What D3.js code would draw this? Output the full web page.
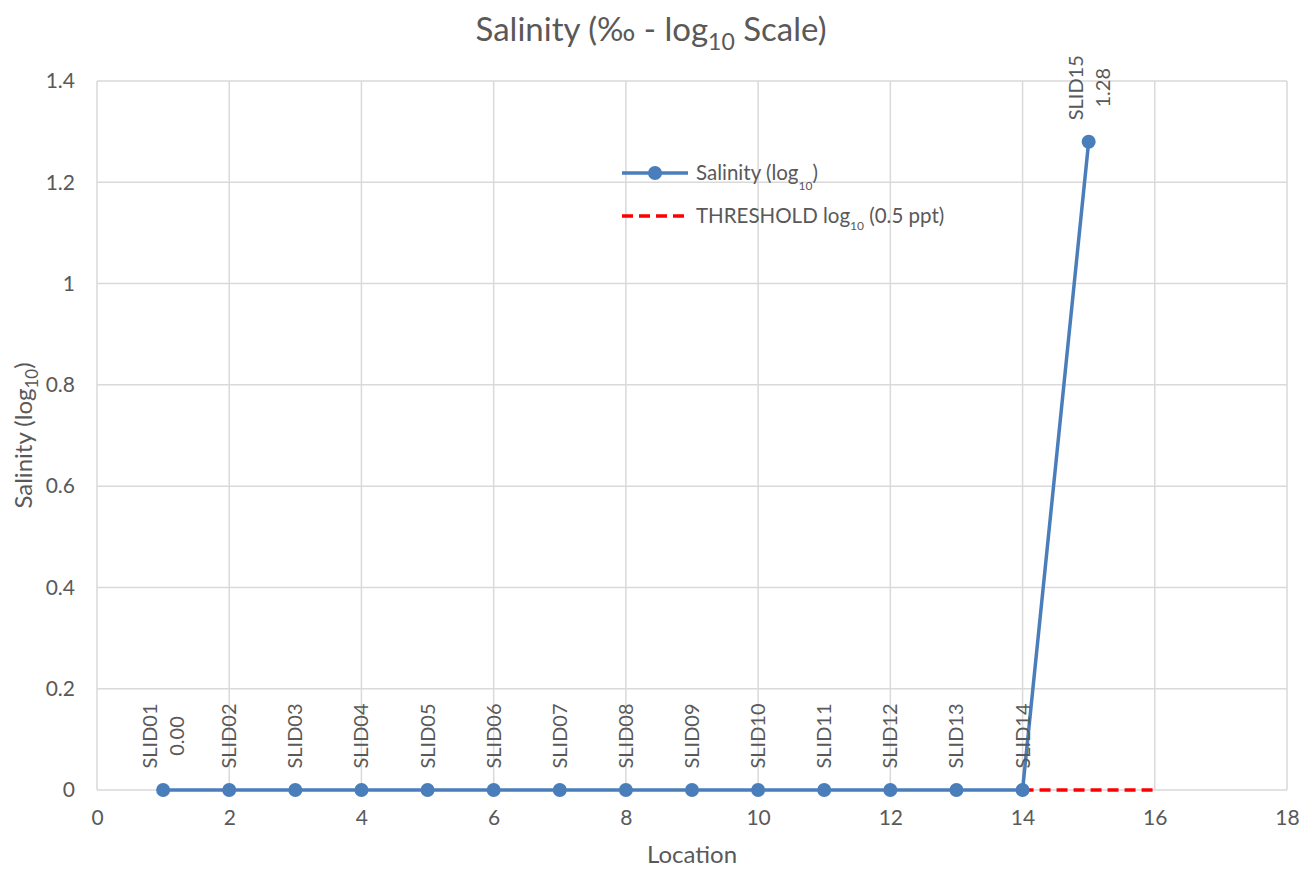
<!DOCTYPE html>
<html>
<head>
<meta charset="utf-8">
<script src="https://cdn.jsdelivr.net/npm/d3@7"></script>
<style>
body { margin: 0; background: #fff; }
text { font-family: Lato, "Open Sans", sans-serif; fill: #595959; }
</style>
</head>
<body>
<div id="chart"></div>
<script>
var width = 1302;
var height = 869;

// data
var locations = [1, 2, 3, 4, 5, 6, 7, 8, 9, 10, 11, 12, 13, 14, 15];
var siteNames = ["SLID01", "SLID02", "SLID03", "SLID04", "SLID05", "SLID06", "SLID07", "SLID08",
                 "SLID09", "SLID10", "SLID11", "SLID12", "SLID13", "SLID14", "SLID15"];
var salinityLog = [0, 0, 0, 0, 0, 0, 0, 0, 0, 0, 0, 0, 0, 0, 1.28];
var showValue = [true, false, false, false, false, false, false, false, false, false, false, false, false, false, true];
var thresholdX = [14, 16];
var thresholdY = [0, 0];
var xTicks = [0, 2, 4, 6, 8, 10, 12, 14, 16, 18];
var yTicks = [0, 0.2, 0.4, 0.6, 0.8, 1, 1.2, 1.4];

var blue = "#4a7ebb";
var grid = "#d9d9d9";

var margin = {left: 97, right: 15, top: 81, bottom: 79};

var svg = d3.select("#chart")
    .append("svg")
    .attr("width", width)
    .attr("height", height);

var x = d3.scaleLinear().domain([0, 18]).range([margin.left, width - margin.right]);
var y = d3.scaleLinear().domain([0, 1.4]).range([height - margin.bottom, margin.top]);

// gridlines
svg.append("g")
    .selectAll("line.v")
    .data(xTicks)
    .enter()
    .append("line")
    .attr("x1", function(d) { return x(d); })
    .attr("x2", function(d) { return x(d); })
    .attr("y1", y(0))
    .attr("y2", y(1.4))
    .attr("stroke", grid)
    .attr("stroke-width", 1.5);

svg.append("g")
    .selectAll("line.h")
    .data(yTicks)
    .enter()
    .append("line")
    .attr("x1", x(0))
    .attr("x2", x(18))
    .attr("y1", function(d) { return y(d); })
    .attr("y2", function(d) { return y(d); })
    .attr("stroke", grid)
    .attr("stroke-width", 1.5);

// axes (labels only)
var xAxis = svg.append("g")
    .attr("transform", "translate(0," + y(0) + ")")
    .call(d3.axisBottom(x).tickValues(xTicks).tickSize(0).tickPadding(20).tickFormat(d3.format("d")));
var yAxis = svg.append("g")
    .attr("transform", "translate(" + x(0) + ",0)")
    .call(d3.axisLeft(y).tickValues(yTicks).tickSize(0).tickPadding(22).tickFormat(function(d) {
        return d === 0 || d === 1 ? d3.format("d")(d) : d3.format(".1f")(d);
    }));
[xAxis, yAxis].forEach(function(a) {
    a.select(".domain").remove();
    a.selectAll("text").style("font-size", "21px").attr("fill", "#595959")
        .style("font-family", "Lato, 'Open Sans', sans-serif");
});

// threshold line
var pts = thresholdX.map(function(d, i) { return [d, thresholdY[i]]; });
svg.append("path")
    .datum(pts)
    .attr("d", d3.line().x(function(d) { return x(d[0]); }).y(function(d) { return y(d[1]); }))
    .attr("fill", "none")
    .attr("stroke", "#ff0000")
    .attr("stroke-width", 3.5)
    .attr("stroke-dasharray", "11,6");

// salinity series
var series = locations.map(function(d, i) { return {x: d, y: salinityLog[i], name: siteNames[i], show: showValue[i]}; });
svg.append("path")
    .datum(series)
    .attr("d", d3.line().x(function(d) { return x(d.x); }).y(function(d) { return y(d.y); }))
    .attr("fill", "none")
    .attr("stroke", blue)
    .attr("stroke-width", 3.5);

svg.append("g")
    .selectAll("circle")
    .data(series)
    .enter()
    .append("circle")
    .attr("cx", function(d) { return x(d.x); })
    .attr("cy", function(d) { return y(d.y); })
    .attr("r", 7)
    .attr("fill", blue);

// data labels (rotated)
var lab = svg.append("g")
    .selectAll("g")
    .data(series)
    .enter()
    .append("g")
    .attr("transform", function(d) {
        return "translate(" + x(d.x) + "," + (y(d.y) - 54) + ") rotate(-90)";
    });
lab.append("text")
    .attr("text-anchor", "middle")
    .attr("y", function(d) { return d.show ? -6 : 7; })
    .style("font-size", "20px")
    .text(function(d) { return d.name; });
lab.filter(function(d) { return d.show; })
    .append("text")
    .attr("text-anchor", "middle")
    .attr("y", 21)
    .style("font-size", "20px")
    .text(function(d) { return d.y.toFixed(2); });

// title
var title = svg.append("text")
    .attr("x", 651)
    .attr("y", 41)
    .attr("text-anchor", "middle")
    .style("font-size", "33px");
title.append("tspan").text("Salinity (\u2030 - log");
title.append("tspan").attr("dy", 9).style("font-size", "23px").text("10");
title.append("tspan").attr("dy", -9).text(" Scale)");

// axis titles
svg.append("text")
    .attr("x", x(9))
    .attr("y", 863)
    .attr("text-anchor", "middle")
    .style("font-size", "24px")
    .text("Location");

var yt = svg.append("text")
    .attr("transform", "translate(32," + y(0.7) + ") rotate(-90)")
    .attr("text-anchor", "middle")
    .style("font-size", "24px");
yt.append("tspan").text("Salinity (log");
yt.append("tspan").attr("dy", 6).style("font-size", "17px").text("10");
yt.append("tspan").attr("dy", -6).text(")");

// legend
var lg = svg.append("g").attr("transform", "translate(622,0)");
lg.append("line").attr("x1", 0).attr("x2", 66).attr("y1", 173).attr("y2", 173)
    .attr("stroke", blue).attr("stroke-width", 3.5);
lg.append("circle").attr("cx", 33).attr("cy", 173).attr("r", 7).attr("fill", blue);
var l1 = lg.append("text").attr("x", 74).attr("y", 180).style("font-size", "20.5px");
l1.append("tspan").text("Salinity (log");
l1.append("tspan").attr("dy", 10).style("font-size", "12px").text("10");
l1.append("tspan").attr("dy", -10).text(")");

lg.append("line").attr("x1", 0).attr("x2", 66).attr("y1", 216).attr("y2", 216)
    .attr("stroke", "#ff0000").attr("stroke-width", 3.5).attr("stroke-dasharray", "11,6");
var l2 = lg.append("text").attr("x", 74).attr("y", 223).style("font-size", "20.5px");
l2.append("tspan").text("THRESHOLD log");
l2.append("tspan").attr("dy", 7).style("font-size", "12px").text("10");
l2.append("tspan").attr("dy", -7).text(" (0.5 ppt)");
</script>
</body>
</html>
